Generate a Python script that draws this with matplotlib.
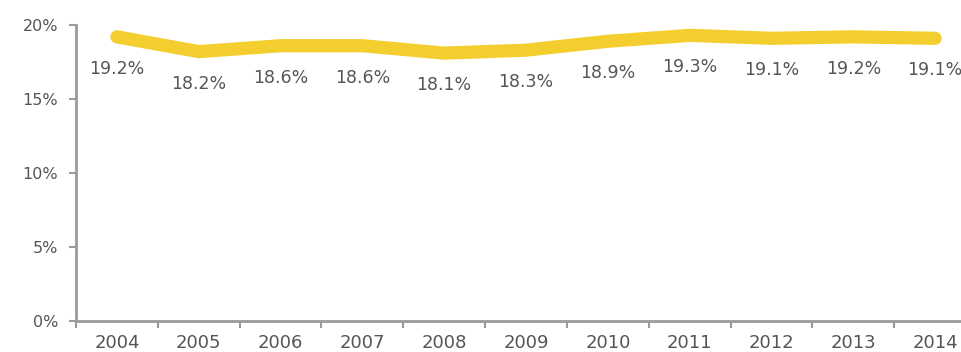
import matplotlib
matplotlib.use("Agg")
import matplotlib.pyplot as plt
from matplotlib.ticker import FixedLocator, NullFormatter

plt.rcParams["font.family"] = ["DejaVu Sans"]

years = ["2004", "2005", "2006", "2007", "2008", "2009", "2010", "2011", "2012", "2013", "2014"]
share = [19.2, 18.2, 18.6, 18.6, 18.1, 18.3, 18.9, 19.3, 19.1, 19.2, 19.1]
y_ticks = [0, 5, 10, 15, 20]

W, H = 961, 352
fig = plt.figure(figsize=(W / 100, H / 100), dpi=100)
fig.patch.set_facecolor("white")
ax = fig.add_axes([76 / W, 31 / H, 900 / W, 296 / H])

text_col = "#555555"
axis_col = "#9a9a9a"
x = list(range(len(years)))

ax.plot(x, share, color="#F4CE2E", lw=9.5, solid_capstyle="round",
        solid_joinstyle="round", clip_on=False, zorder=3)

for xi, v in zip(x, share):
    ax.annotate(f"{v:.1f}%", (xi, v), xytext=(0, -23), textcoords="offset points",
                ha="center", va="center", fontsize=12.5, color=text_col)

ax.set_xlim(-0.5, len(years) - 0.5)
ax.set_ylim(0, 20)

ax.set_yticks(y_ticks)
ax.set_yticklabels([f"{t}%" for t in y_ticks])

# category boundaries carry the tick marks, labels sit centred on categories
ax.xaxis.set_major_locator(FixedLocator([i - 0.5 for i in range(len(years) + 1)]))
ax.xaxis.set_major_formatter(NullFormatter())
ax.xaxis.set_minor_locator(FixedLocator(x))
ax.set_xticklabels(years, minor=True)
ax.tick_params(axis="x", which="minor", length=0, pad=9, labelsize=13, labelcolor=text_col)
ax.tick_params(axis="x", which="major", length=5, width=1.5, color=axis_col, direction="out")
ax.tick_params(axis="y", length=5, width=1.5, color=axis_col, direction="out",
               pad=8, labelsize=11.5, labelcolor=text_col)

for s in ["top", "right"]:
    ax.spines[s].set_visible(False)
for s in ["left", "bottom"]:
    ax.spines[s].set_color(axis_col)
    ax.spines[s].set_linewidth(2)

fig.savefig("out.png", dpi=100)
